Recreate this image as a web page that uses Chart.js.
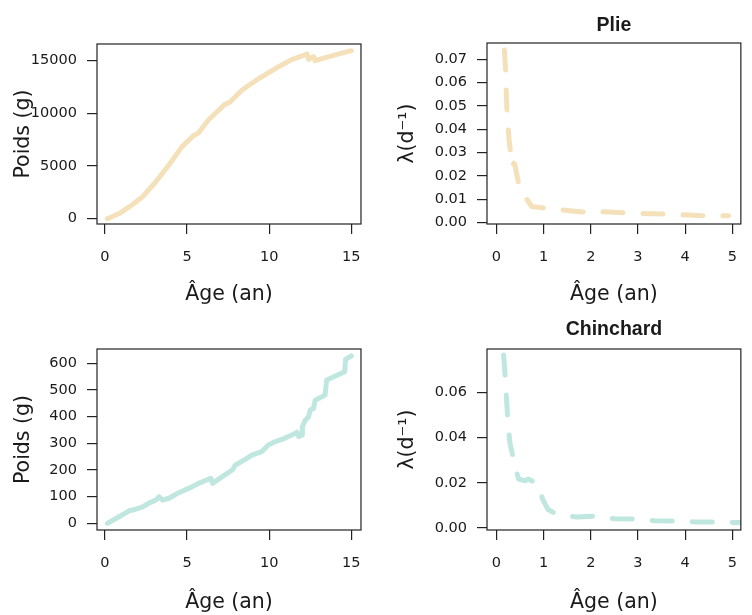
<!DOCTYPE html>
<html>
<head>
<meta charset="utf-8">
<script src="https://cdn.jsdelivr.net/npm/chart.js@4.4.1/dist/chart.umd.min.js"></script>
<style>
  html, body { margin: 0; padding: 0; background: #fff; }
  #wrap { position: relative; width: 752px; height: 615px; overflow: hidden; }
  canvas { position: absolute; }
</style>
</head>
<body>
<div id="wrap">
  <canvas id="plieWeightChart" width="376" height="308" style="left:0;top:0"></canvas>
  <canvas id="plieLambdaChart" width="376" height="308" style="left:376px;top:0"></canvas>
  <canvas id="chinWeightChart" width="376" height="310" style="left:0;top:305px"></canvas>
  <canvas id="chinLambdaChart" width="376" height="310" style="left:376px;top:305px"></canvas>
</div>
<script>
// ============================================
// DATA
// ============================================

// Plie - poids selon l'age
const plieAge = [0.15, 0.5, 0.9, 1.5, 2.3, 3.1, 3.9, 4.7, 5.4, 5.6, 5.7, 6.3, 7.3, 7.45, 7.6, 8.35, 9.4, 10.4, 11.4, 12.0, 12.3, 12.4, 12.7, 12.8, 13.8, 15.0];
const plieWeight = [0, 230, 510, 1140, 2090, 3510, 5100, 6840, 7900, 8050, 8150, 9370, 10850, 10950, 11050, 12220, 13330, 14280, 15130, 15450, 15640, 15130, 15380, 15000, 15450, 15950];

// Plie - lambda selon l'age
const plieLamAge = [0.17, 0.2, 0.22, 0.27, 0.34, 0.37, 0.39, 0.41, 0.47, 0.61, 0.75, 1.0, 1.4, 1.6, 2.0, 2.2, 2.4, 3.0, 3.7, 4.3, 4.92];
const plieLambda = [0.074, 0.064, 0.050, 0.0354, 0.024, 0.0255, 0.025, 0.023, 0.0169, 0.0111, 0.0069, 0.0063, 0.0054, 0.0050, 0.0043, 0.0047, 0.0045, 0.0040, 0.0036, 0.0030, 0.0029];

// Chinchard - poids selon l'age
const chinAge = [0.15, 0.7, 1.4, 1.5, 1.7, 2.3, 2.7, 3.1, 3.3, 3.5, 3.9, 4.5, 5.1, 5.7, 6.45, 6.55, 7.15, 7.75, 7.95, 8.55, 8.95, 9.55, 9.95, 10.35, 10.95, 11.6, 11.7, 11.8, 12.0, 12.02, 12.2, 12.4, 12.5, 12.7, 12.8, 13.4, 13.5, 14.6, 14.65, 15.0];
const chinWeight = [0, 19, 44, 48, 50, 62, 77, 87, 100, 87, 94, 115, 131, 150, 169, 150, 175, 200, 219, 240, 256, 269, 294, 306, 319, 338, 342, 325, 331, 362, 387, 400, 425, 431, 462, 481, 538, 569, 615, 628];

// Chinchard - lambda selon l'age
const chinLamAge = [0.155, 0.19, 0.24, 0.285, 0.37, 0.47, 0.61, 0.67, 0.88, 0.98, 1.09, 1.29, 1.7, 2.1, 2.5, 3.0, 3.35, 3.85, 4.2, 4.7, 5.05, 5.3];
const chinLambda = [0.0766, 0.0662, 0.0484, 0.038, 0.0298, 0.0217, 0.0209, 0.0217, 0.0195, 0.0128, 0.0083, 0.0059, 0.0049, 0.0052, 0.0041, 0.0039, 0.0032, 0.0031, 0.0027, 0.0027, 0.0024, 0.0024];

// Tick values
const ageTicksLong = [0, 5, 10, 15];
const ageTicksShort = [0, 1, 2, 3, 4, 5];
const plieWeightTicks = [0, 5000, 10000, 15000];
const chinWeightTicks = [0, 100, 200, 300, 400, 500, 600];
const plieLambdaTicks = [0, 0.01, 0.02, 0.03, 0.04, 0.05, 0.06, 0.07];
const chinLambdaTicks = [0, 0.02, 0.04, 0.06];

const PLIE_COLOR = '#F4E1BA';
const CHIN_COLOR = '#BFE7DF';
const TEXT_COLOR = '#1a1a1a';
const TICK_FONT = { family: '"DejaVu Sans", sans-serif', size: 14.5 };
const LABEL_FONT = { family: '"DejaVu Sans", sans-serif', size: 20.5 };

// ============================================
// HELPERS
// ============================================

// box around plot area + bold panel title
const boxPlugin = {
    id: 'box',
    afterDraw(chart, args, opts) {
        const { ctx, chartArea: a } = chart;
        ctx.save();
        ctx.strokeStyle = '#222';
        ctx.lineWidth = 1.2;
        ctx.strokeRect(a.left, a.top, a.right - a.left, a.bottom - a.top);
        if (opts.text) {
            ctx.fillStyle = TEXT_COLOR;
            ctx.font = 'bold 19.5px "Liberation Sans", Arial, sans-serif';
            ctx.textAlign = 'center';
            ctx.textBaseline = 'middle';
            ctx.fillText(opts.text, (a.left + a.right) / 2, opts.y);
        }
        ctx.restore();
    }
};

function makeAxis(min, max, tickValues, fmt, title, size, titlePad, horizontal) {
    return {
        type: 'linear',
        min: min,
        max: max,
        afterBuildTicks: scale => {
            scale.ticks = tickValues.map(v => ({ value: v }));
        },
        afterFit: scale => {
            if (horizontal) scale.height = size;
            else scale.width = size;
        },
        border: { display: false },
        grid: {
            drawOnChartArea: false,
            drawTicks: true,
            tickLength: 10,
            color: '#222',
            lineWidth: 1.2
        },
        ticks: {
            autoSkip: false,
            maxRotation: 0,
            padding: horizontal ? 15 : 10,
            color: TEXT_COLOR,
            font: TICK_FONT,
            callback: v => fmt(v)
        },
        title: {
            display: true,
            text: title,
            color: TEXT_COLOR,
            font: LABEL_FONT,
            padding: horizontal ? { top: 0, bottom: titlePad } : { top: titlePad, bottom: 0 }
        }
    };
}

function makePanel(id, xs, ys, color, dashed, cfg) {
    const points = xs.map((x, i) => ({ x: x, y: ys[i] }));
    new Chart(document.getElementById(id), {
        type: 'line',
        data: {
            datasets: [{
                data: points,
                borderColor: color,
                borderWidth: 5,
                borderDash: dashed ? [20, 20] : [],
                borderCapStyle: 'round',
                borderJoinStyle: 'round',
                pointRadius: 0,
                tension: 0,
                fill: false,
                clip: 0
            }]
        },
        options: {
            responsive: false,
            animation: false,
            events: [],
            layout: { padding: cfg.padding },
            scales: {
                x: makeAxis(cfg.xMin, cfg.xMax, cfg.xTicks, v => String(v), 'Âge (an)', cfg.xHeight, cfg.xTitlePad, true),
                y: makeAxis(cfg.yMin, cfg.yMax, cfg.yTicks, cfg.yFmt, cfg.yTitle, cfg.yWidth, cfg.yTitlePad, false)
            },
            plugins: {
                legend: { display: false },
                tooltip: { enabled: false },
                box: { text: cfg.title, y: cfg.titleY }
            }
        },
        plugins: [boxPlugin]
    });
}

// ============================================
// PANELS
// ============================================

makePanel('plieWeightChart', plieAge, plieWeight, PLIE_COLOR, false, {
    padding: { top: 44, left: 0, right: 13, bottom: 0 },
    xMin: -0.48, xMax: 15.59, xTicks: ageTicksLong, xHeight: 84, xTitlePad: 0.7,
    yMin: -503, yMax: 16585, yTicks: plieWeightTicks, yFmt: v => String(v),
    yTitle: 'Poids (g)', yWidth: 97, yTitlePad: 11.7
});

makePanel('plieLambdaChart', plieLamAge, plieLambda, PLIE_COLOR, true, {
    padding: { top: 43, left: 0, right: 1, bottom: 0 },
    xMin: -0.198, xMax: 5.18, xTicks: ageTicksShort, xHeight: 84, xTitlePad: 0.7,
    yMin: -0.0006, yMax: 0.077, yTicks: plieLambdaTicks, yFmt: v => v.toFixed(2),
    yTitle: 'λ(d⁻¹)', yWidth: 111, yTitlePad: 19.5,
    title: 'Plie', titleY: 25.5
});

makePanel('chinWeightChart', chinAge, chinWeight, CHIN_COLOR, false, {
    padding: { top: 44, left: 0, right: 13, bottom: 0 },
    xMin: -0.48, xMax: 15.59, xTicks: ageTicksLong, xHeight: 85, xTitlePad: 0,
    yMin: -25, yMax: 654, yTicks: chinWeightTicks, yFmt: v => String(v),
    yTitle: 'Poids (g)', yWidth: 97, yTitlePad: 11.7
});

makePanel('chinLambdaChart', chinLamAge, chinLambda, CHIN_COLOR, true, {
    padding: { top: 44, left: 0, right: 1, bottom: 0 },
    xMin: -0.198, xMax: 5.18, xTicks: ageTicksShort, xHeight: 85, xTitlePad: 0,
    yMin: -0.0009, yMax: 0.0793, yTicks: chinLambdaTicks, yFmt: v => v.toFixed(2),
    yTitle: 'λ(d⁻¹)', yWidth: 111, yTitlePad: 19.5,
    title: 'Chinchard', titleY: 25
});
</script>
</body>
</html>
